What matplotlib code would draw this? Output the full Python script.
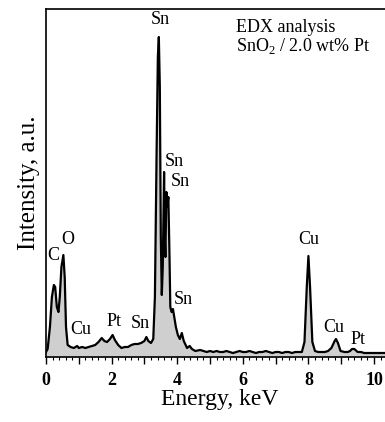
import matplotlib.pyplot as plt
from matplotlib.ticker import MultipleLocator, FuncFormatter

# EDX spectrum (energy in keV, intensity in arbitrary units)
energy = [0.0, 0.05, 0.12, 0.18, 0.24, 0.28, 0.33, 0.38, 0.42, 0.47, 0.53, 0.57,
          0.61, 0.66, 0.75, 0.85, 0.95, 1.0, 1.1, 1.2, 1.3, 1.4, 1.5, 1.6, 1.7,
          1.78, 1.86, 1.95, 2.03, 2.1, 2.2, 2.3, 2.4, 2.5, 2.6, 2.7, 2.8, 2.9,
          3.0, 3.06, 3.12, 3.2, 3.27, 3.32, 3.37, 3.41, 3.44, 3.47, 3.5, 3.53,
          3.56, 3.6, 3.62, 3.64, 3.67, 3.7, 3.73, 3.76, 3.79, 3.83, 3.87, 3.92,
          3.96, 4.02, 4.08, 4.14, 4.2, 4.3, 4.38, 4.45, 4.55, 4.7, 4.8, 4.9,
          5.0, 5.1, 5.2, 5.3, 5.4, 5.5, 5.6, 5.7, 5.8, 5.9, 6.0, 6.1, 6.2, 6.3,
          6.4, 6.5, 6.6, 6.7, 6.8, 6.9, 7.0, 7.1, 7.2, 7.3, 7.4, 7.5, 7.6, 7.7,
          7.8, 7.88, 7.95, 8.0, 8.05, 8.12, 8.2, 8.3, 8.4, 8.5, 8.6, 8.7, 8.8,
          8.84, 8.9, 8.98, 9.1, 9.2, 9.27, 9.33, 9.4, 9.5, 9.6, 9.7, 9.85, 10.0,
          10.15, 10.3, 10.45, 10.6]
intensity = [5, 8, 30, 60, 72, 70, 50, 45, 60, 90, 102, 80,
             30, 12, 10, 9, 11, 9, 10, 9, 10, 11, 12, 15, 19,
             16, 15, 18, 22, 17, 12, 9, 10, 10, 12, 13, 13, 14,
             16, 20, 16, 14, 18, 60, 200, 300, 320, 270, 120, 62,
             90, 185, 120, 100, 165, 150, 160, 110, 50, 45, 48, 38,
             30, 22, 18, 24, 16, 9, 11, 8, 6, 7, 6, 5,
             6, 5, 6, 5, 5, 6, 5, 4, 5, 6, 5, 5, 6, 5,
             4, 5, 5, 6, 5, 4, 5, 5, 4, 5, 5, 4, 5, 5,
             5, 15, 70, 101, 70, 15, 6, 5, 5, 5, 6, 9, 16,
             18, 14, 6, 5, 5, 6, 8, 8, 5, 5, 4, 4, 4,
             4, 4, 4, 4]

# peak labels: (text, energy, intensity)
peak_labels = [("Sn", 3.47, 337), ("Sn", 3.90, 195), ("Sn", 4.08, 175),
               ("Sn", 4.18, 57), ("C", 0.22, 101), ("O", 0.67, 117),
               ("Cu", 1.07, 27), ("Pt", 2.07, 35), ("Sn", 2.87, 34),
               ("Cu", 8.0, 117), ("Cu", 8.78, 30), ("Pt", 9.5, 18)]

plt.rcParams['font.family'] = ['Liberation Serif', 'DejaVu Serif']

fig = plt.figure(figsize=(3.85, 4.22), dpi=100)
ax = fig.add_axes([46 / 385, 65 / 422, 347.7 / 385, 348 / 422])

ax.fill_between(energy, 0, intensity, color='#cfcfcf', lw=0)
ax.plot(energy, intensity, color='black', lw=1.6)

for txt, x, y in peak_labels:
    ax.text(x, y, txt, ha='center', va='center', fontsize=13)

ax.text(5.8, 330, "EDX analysis", ha='left', va='center', fontsize=13)
ax.text(5.8, 311, "SnO$_\\mathregular{2}$ / 2.0 wt% Pt", ha='left', va='center',
        fontsize=13)

ax.set_xlim(0, 10.6)
ax.set_ylim(0, 348)
ax.set_yticks([])
ax.xaxis.set_major_locator(MultipleLocator(1))
ax.xaxis.set_minor_locator(MultipleLocator(0.2))
ax.xaxis.set_major_formatter(FuncFormatter(lambda v, p: "%d" % v if round(v) % 2 == 0 else ""))
ax.tick_params(axis='x', which='major', length=5, width=1, labelsize=13, pad=6)
ax.tick_params(axis='x', which='minor', length=2.5, width=0.8)
for lab in ax.get_xticklabels():
    lab.set_fontweight('bold')
for s in ax.spines.values():
    s.set_linewidth(1.2)

ax.set_xlabel("Energy, keV", fontsize=17, labelpad=0)
ax.set_ylabel("Intensity, a.u.", fontsize=18, labelpad=4)

fig.savefig("out.png", dpi=100)
